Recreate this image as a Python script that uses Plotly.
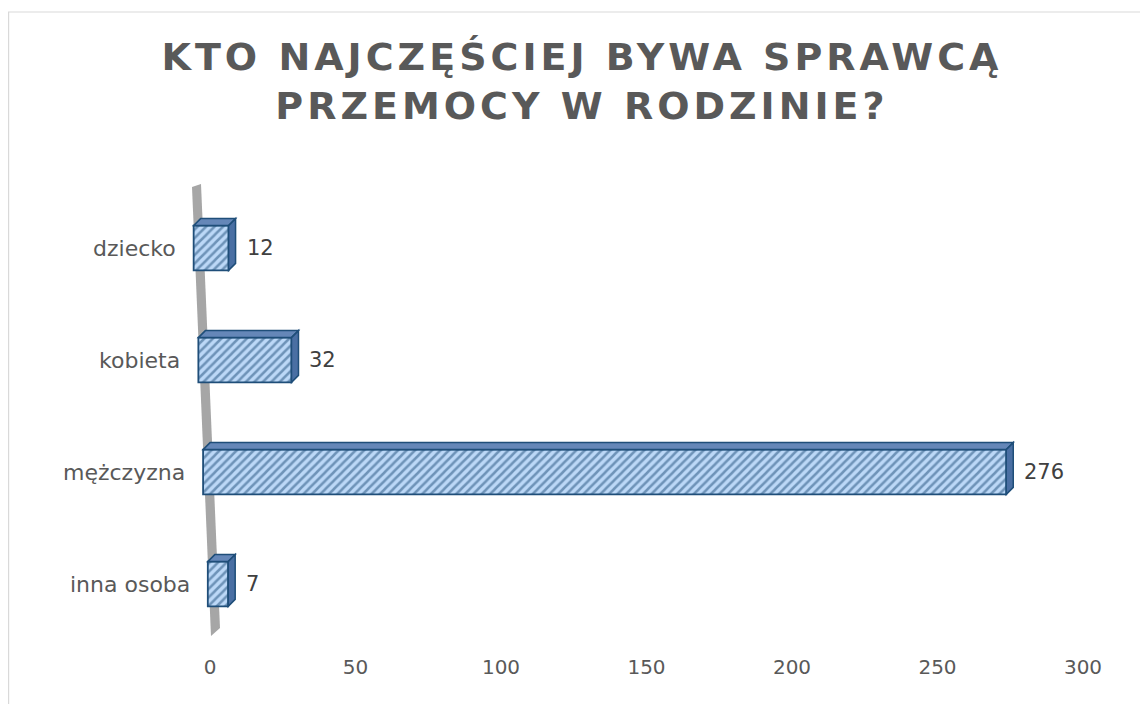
import plotly.graph_objects as go

# ---- data ----
categories = ["inna osoba", "mężczyzna", "kobieta", "dziecko"]   # bottom -> top
values = [7, 276, 32, 12]
x_ticks = [0, 50, 100, 150, 200, 250, 300]
title_line1 = "KTO NAJCZĘŚCIEJ BYWA SPRAWCĄ"
title_line2 = "PRZEMOCY W RODZINIE?"

# ---- layout constants (pixels, figure coordinates) ----
W, H = 1148, 704
OFF = 8                       # page margin of the html body
X0PX = 210 - OFF              # pixel of value 0
X300PX = 1083 - OFF           # pixel of value 300
XMAX = 300
PLOT_TOP = 192 - OFF
PLOT_BOT = 640 - OFF
ML, MR, MT, MB = 12, W - X300PX, PLOT_TOP, H - PLOT_BOT
PW, PH = W - ML - MR, H - MT - MB
px_per_unit = (X300PX - X0PX) / XMAX
XMIN = -(X0PX - ML) / px_per_unit
px_per_cat = PH / len(categories)

def px_to_paper_x(px):
    return (px - ML) / PW

def py_to_paper_y(py):
    return (H - MB - py) / PH

# slanted back wall (pixel geometry)
wall_top = (192 - OFF, 185 - OFF)
wall_bot = (211 - OFF, 636 - OFF)
wall_w = 9

def wall_x_at(py):
    t = (py - wall_top[1]) / (wall_bot[1] - wall_top[1])
    return wall_top[0] + t * (wall_bot[0] - wall_top[0])

bar_w = 0.40
depth_x = 7 / px_per_unit
depth_y = 7 / px_per_cat

ypos = list(range(len(categories)))
bases = []
for i in ypos:
    py_center = H - MB - (i + 0.5) * px_per_cat
    bases.append((wall_x_at(py_center) - 1 - X0PX) / px_per_unit)

navy = "#1F4E79"
fig = go.Figure()
fig.add_trace(go.Bar(
    y=ypos, x=values, base=bases, orientation="h", width=bar_w,
    marker=dict(
        color="#B4D3F6",
        line=dict(color=navy, width=1.8),
        pattern=dict(shape="/", fgcolor="#1F4E79", bgcolor="#BCD8F7",
                     size=6, solidity=0.42),
    ),
    hovertemplate="%{customdata}: %{x}<extra></extra>",
    customdata=categories,
    showlegend=False,
))

shapes = []
# wall
wx0, wy0 = wall_top
wx1, wy1 = wall_bot
path = "M {a},{b} L {c},{d} L {e},{f} L {g},{h} Z".format(
    a=px_to_paper_x(wx0), b=py_to_paper_y(wy0 + 2),
    c=px_to_paper_x(wx0 + wall_w), d=py_to_paper_y(wy0 - 1),
    e=px_to_paper_x(wx1 + wall_w), f=py_to_paper_y(wy1 - 8),
    g=px_to_paper_x(wx1), h=py_to_paper_y(wy1),
)
shapes.append(dict(type="path", xref="paper", yref="paper", path=path,
                   fillcolor="#A6A6A6", line=dict(width=0), layer="below"))

# 3D faces of bars
for y, v, b in zip(ypos, values, bases):
    top = y + bar_w / 2
    bot = y - bar_w / 2
    right = b + v
    top_face = f"M {b},{top} L {right},{top} L {right+depth_x},{top+depth_y} L {b+depth_x},{top+depth_y} Z"
    side_face = f"M {right},{top} L {right+depth_x},{top+depth_y} L {right+depth_x},{bot+depth_y} L {right},{bot} Z"
    shapes.append(dict(type="path", xref="x", yref="y", path=top_face,
                       fillcolor="#6587B8", line=dict(color=navy, width=1.5)))
    shapes.append(dict(type="path", xref="x", yref="y", path=side_face,
                       fillcolor="#4A6FA3", line=dict(color=navy, width=1.5)))

# border of chart area
shapes.append(dict(type="rect", xref="paper", yref="paper",
                   x0=px_to_paper_x(0.6), x1=px_to_paper_x(W + 10),
                   y0=py_to_paper_y(H + 10), y1=py_to_paper_y(12 - OFF),
                   line=dict(color="#D9D9D9", width=1.2), fillcolor="rgba(0,0,0,0)",
                   layer="below"))

label_font = dict(family="DejaVu Sans, sans-serif", size=22, color="#595959")
tick_font = dict(family="DejaVu Sans, sans-serif", size=20, color="#595959")
annotations = []
for y, v, b, c in zip(ypos, values, bases, categories):
    annotations.append(dict(x=b, y=y, xref="x", yref="y", text=c,
                            showarrow=False, xanchor="right", xshift=-16,
                            font=label_font))
    annotations.append(dict(x=b + v, y=y, xref="x", yref="y", text=str(v),
                            showarrow=False, xanchor="left", xshift=16,
                            font=dict(tick_font, size=21, color="#404040")))

title_text = ('<span style="letter-spacing:4px">' + title_line1 + '</span><br>'
              '<span style="letter-spacing:4px">' + title_line2 + '</span>')

fig.update_layout(
    width=W, height=H,
    margin=dict(l=ML, r=MR, t=MT, b=MB),
    paper_bgcolor="white", plot_bgcolor="white",
    title=dict(text=title_text, x=0.5, xanchor="center", xref="container",
               y=1 - 62 / H, yanchor="top", yref="container",
               font=dict(family="DejaVu Sans, sans-serif", size=38, color="#595959", weight="bold")),
    xaxis=dict(range=[XMIN, XMAX], tickvals=x_ticks, showgrid=False, zeroline=False,
               showline=False, ticks="", ticklabelstandoff=13,
               tickfont=tick_font, fixedrange=True),
    yaxis=dict(range=[-0.5, len(categories) - 0.5], showticklabels=False, showgrid=False,
               zeroline=False, showline=False, fixedrange=True),
    shapes=shapes,
    annotations=annotations,
)

fig.write_html("out.html")
